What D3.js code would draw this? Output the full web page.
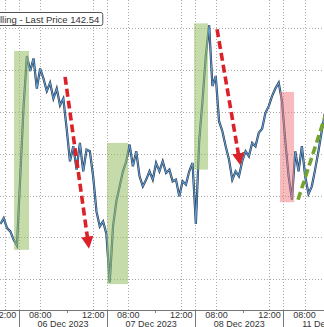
<!DOCTYPE html>
<html>
<head>
<meta charset="utf-8">
<script src="https://cdn.jsdelivr.net/npm/d3@7"></script>
<style>
  html, body { margin: 0; padding: 0; background: #fff; }
  svg { display: block; }
  text { font-family: "Liberation Sans Narrow", "Liberation Sans", Arial, sans-serif; fill: #333; }
</style>
</head>
<body>
<svg id="chart" width="324" height="327"></svg>
<script>
// trading days on the axis (day 0 is only partly visible)
const days = ["05 Dec 2023", "06 Dec 2023", "07 Dec 2023", "08 Dec 2023", "11 Dec 2023"];
const sessionOpen = 6.4;      // hour the session starts
const sessionLength = 6.65;   // hours per session on the axis
const majorHours = [8, 12];
const majorLabels = ["08:00", "12:00"];
const minorHours = [10];

// horizontal grid (price)
const priceGrid = [146, 145.5, 145, 144.5, 144, 143.5, 143];

// price series, one point every 15 min of session time
const priceStart = 5.25;
const priceStep = 0.25;
const prices = [
  143.66, 143.73, 143.61, 143.57, 143.47, 143.40, 144.23, 145.07, 145.67, 145.49,
  145.64, 145.28, 145.52, 145.40, 145.25, 145.35, 145.16, 145.28, 145.08, 145.16,
  144.80, 144.41, 144.59, 144.31, 144.63, 144.29, 144.55, 144.53, 144.23, 143.81,
  143.63, 143.69, 143.54, 142.96, 143.63, 143.93, 144.11, 144.29, 144.41, 144.61,
  144.35, 144.53, 144.23, 144.11, 144.19, 144.29, 144.19, 144.39, 144.29, 144.41,
  144.27, 144.31, 144.17, 144.19, 143.99, 144.17, 144.13, 144.29, 144.39, 143.66,
  144.65, 145.13, 145.67, 146.04, 145.31, 145.43, 144.89, 144.77, 144.59, 144.43,
  144.19, 144.29, 144.23, 144.41, 144.53, 144.47, 144.63, 144.59, 144.75, 144.80,
  144.99, 145.07, 145.19, 145.28, 145.35, 145.13, 144.65, 144.23, 143.95, 144.53,
  144.29, 144.59, 144.23, 144.02, 144.11, 144.31, 144.53, 144.77, 144.99
];

// shaded zones [t0, t1, pHigh, pLow]
const greenZones = [
  [6.28, 7.41, 145.73, 143.35],
  [13.30, 14.88, 144.63, 142.94],
  [19.86, 20.92, 146.06, 144.31]
];
const redZones = [
  [26.35, 27.41, 145.24, 143.92]
];

// dashed arrows [t0, p0, t1, p1]
const redArrows = [
  [10.13, 145.42, 11.86, 143.45],
  [21.60, 145.99, 23.26, 144.45]
];
const greenArrows = [
  [27.71, 143.95, 29.82, 144.98]
];

const legendText = "lling - Last Price 142.54";

const W = 324, H = 327;
const axisY = 310;

const svg = d3.select("#chart");

const x = d3.scaleLinear().domain([5.22, 29.67]).range([0, W]);
const y = d3.scaleLinear().domain([142.63, 146.34]).range([axisY, 0]);

const tOf = (d, h) => d * sessionLength + h - sessionOpen;

// grid
const grid = svg.append("g").attr("class", "grid");
grid.selectAll("line.h")
  .data(priceGrid)
  .enter().append("line")
  .attr("class", "h")
  .attr("x1", 0).attr("x2", W)
  .attr("y1", d => Math.round(y(d)) + 0.5).attr("y2", d => Math.round(y(d)) + 0.5)
  .attr("stroke", "#aaa").attr("stroke-width", 1)
  .attr("stroke-dasharray", "1,2");

const vTicks = [];
days.forEach((day, d) => {
  vTicks.push(tOf(d, sessionOpen));
  majorHours.forEach(h => vTicks.push(tOf(d, h)));
});
grid.selectAll("line.v")
  .data(vTicks)
  .enter().append("line")
  .attr("class", "v")
  .attr("x1", d => Math.round(x(d)) + 0.5).attr("x2", d => Math.round(x(d)) + 0.5)
  .attr("y1", 0).attr("y2", axisY)
  .attr("stroke", "#aaa").attr("stroke-width", 1)
  .attr("stroke-dasharray", "1,2");

// price line
const line = d3.line()
  .x((d, i) => x(priceStart + i * priceStep))
  .y(d => y(d));

svg.append("path")
  .datum(prices)
  .attr("d", line)
  .attr("fill", "none")
  .attr("stroke", "#263646")
  .attr("stroke-width", 2.2);
svg.append("path")
  .datum(prices)
  .attr("d", line)
  .attr("fill", "none")
  .attr("stroke", "#5f9bd6")
  .attr("stroke-width", 1.1);

// zones on top, see-through
function zones(data, colour){
  svg.append("g").selectAll("rect")
    .data(data)
    .enter().append("rect")
    .attr("x", d => x(d[0]))
    .attr("y", d => y(d[2]))
    .attr("width", d => x(d[1]) - x(d[0]))
    .attr("height", d => y(d[3]) - y(d[2]))
    .attr("fill", colour);
}
zones(greenZones, "rgba(150,190,100,0.55)");
zones(redZones, "rgba(240,120,125,0.5)");

// arrows
const defs = svg.append("defs");
defs.append("marker")
  .attr("id", "redHead")
  .attr("viewBox", "0 0 10 10")
  .attr("refX", 4).attr("refY", 5)
  .attr("markerWidth", 3.4).attr("markerHeight", 3.4)
  .attr("markerUnits", "strokeWidth")
  .attr("orient", "auto")
  .append("path")
  .attr("d", "M0,0 L10,5 L0,10 z")
  .attr("fill", "#dc2229");

svg.append("g").selectAll("line")
  .data(redArrows)
  .enter().append("line")
  .attr("x1", d => x(d[0])).attr("y1", d => y(d[1]))
  .attr("x2", d => x(d[2])).attr("y2", d => y(d[3]))
  .attr("stroke", "#dc2229").attr("stroke-width", 3.6)
  .attr("stroke-dasharray", "8,4")
  .attr("marker-end", "url(#redHead)");

svg.append("g").selectAll("line")
  .data(greenArrows)
  .enter().append("line")
  .attr("x1", d => x(d[0])).attr("y1", d => y(d[1]))
  .attr("x2", d => x(d[2])).attr("y2", d => y(d[3]))
  .attr("stroke", "#76a32f").attr("stroke-width", 3.6)
  .attr("stroke-dasharray", "8,4");

// x axis
const axis = svg.append("g").attr("class", "axis");
axis.append("rect")
  .attr("x", 0).attr("y", axisY).attr("width", W).attr("height", H - axisY)
  .attr("fill", "#fff");
axis.append("line")
  .attr("x1", 0).attr("x2", W)
  .attr("y1", axisY + 0.5).attr("y2", axisY + 0.5)
  .attr("stroke", "#777");

axis.selectAll("line.sep")
  .data(days)
  .enter().append("line")
  .attr("class", "sep")
  .attr("x1", (d, i) => Math.round(x(tOf(i, sessionOpen))) + 0.5)
  .attr("x2", (d, i) => Math.round(x(tOf(i, sessionOpen))) + 0.5)
  .attr("y1", axisY).attr("y2", H)
  .attr("stroke", "#777");

days.forEach((day, d) => {
  minorHours.forEach(h => {
    axis.append("line")
      .attr("x1", Math.round(x(tOf(d, h))) + 0.5).attr("x2", Math.round(x(tOf(d, h))) + 0.5)
      .attr("y1", axisY).attr("y2", axisY + 3)
      .attr("stroke", "#777");
  });
  majorHours.forEach((h, k) => {
    axis.append("text")
      .attr("x", x(tOf(d, h)))
      .attr("y", axisY + 7.5)
      .attr("text-anchor", "middle")
      .attr("font-size", "9px")
      .text(majorLabels[k]);
  });
  // the first day's label lies off the left edge, as in the source
  if (d > 0) {
    axis.append("text")
      .attr("x", x(tOf(d, sessionOpen + sessionLength / 2)))
      .attr("y", H - 0.3)
      .attr("text-anchor", "middle")
      .attr("font-size", "9px")
      .text(day);
  }
});

// legend box (cut at the left edge)
const leg = svg.append("g").attr("class", "legend");
const legRect = leg.append("rect")
  .attr("x", -10).attr("y", 12.5)
  .attr("height", 13)
  .attr("rx", 2)
  .attr("fill", "#fff")
  .attr("stroke", "#555");
const legLabel = leg.append("text")
  .attr("x", 0).attr("y", 22.5)
  .attr("font-size", "9.5px")
  .text(legendText);
legRect.attr("width", 10 + legLabel.node().getComputedTextLength() + 3.5);
</script>
</body>
</html>
